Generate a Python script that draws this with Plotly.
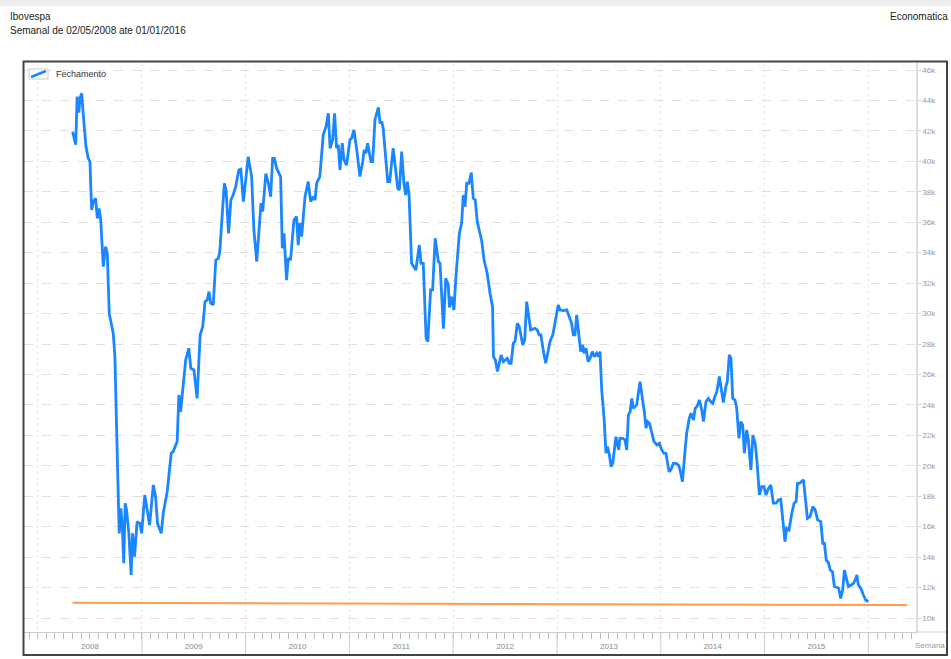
import pandas as pd
import plotly.graph_objects as go

# Weekly series start date; x data given as day offsets from this date
start_date = "2008-05-02"

days = [0, 11, 16, 22, 26, 32, 37, 47, 55, 61, 67, 73, 81, 87, 93, 99, 108, 116, 122, 129,
        143, 149, 155, 161, 164, 170, 175, 180, 185, 190, 198, 206, 211, 218, 227, 237, 243, 254, 263, 271,
        284, 292, 299, 312, 319, 333, 347, 354, 368, 374, 380, 398, 409, 416, 427, 438, 449, 458, 466, 474,
        480, 486, 495, 504, 513, 518, 534, 540, 549, 557, 565, 574, 585, 592, 601, 609, 618, 630, 638, 648,
        657, 663, 669, 680, 689, 697, 704, 710, 718, 732, 738, 744, 753, 759, 767, 779, 788, 794, 800, 806,
        818, 829, 838, 847, 853, 859, 870, 882, 892, 900, 906, 915, 922, 929, 935, 941, 949, 955, 964, 976,
        982, 990, 1000, 1011, 1021, 1026, 1032, 1038, 1050, 1056, 1064, 1076, 1082, 1088, 1093, 1103, 1109, 1116, 1128, 1137,
        1144, 1150, 1158, 1166, 1172, 1178, 1184, 1193, 1208, 1220, 1226, 1234, 1244, 1250, 1260, 1267, 1276, 1287, 1293, 1305,
        1313, 1322, 1326, 1334, 1342, 1349, 1361, 1369, 1375, 1381, 1387, 1395, 1403, 1410, 1417, 1424, 1440, 1448, 1459, 1469,
        1478, 1481, 1488, 1495, 1508, 1516, 1525, 1530, 1537, 1543, 1551, 1557, 1565, 1572, 1584, 1591, 1598, 1605, 1612, 1627,
        1635, 1642, 1648, 1657, 1665, 1672, 1680, 1690, 1695, 1704, 1709, 1715, 1727, 1739, 1748, 1756, 1762, 1768, 1774, 1780,
        1788, 1795, 1800, 1807, 1814, 1821, 1829, 1836, 1844, 1850, 1856, 1862, 1870, 1877, 1882, 1888, 1895, 1901, 1906, 1912,
        1917, 1922, 1926, 1936, 1944, 1950, 1956, 1962, 1968, 1973, 1985, 1991, 1997, 2005, 2012, 2018, 2023, 2030, 2038, 2046,
        2056, 2065, 2073, 2081, 2088, 2093, 2099, 2105, 2114, 2124, 2132, 2138, 2146, 2155, 2161, 2170, 2176, 2185, 2191, 2197,
        2206, 2214, 2220, 2229, 2237, 2246, 2253, 2258, 2267, 2276, 2284, 2290, 2299, 2304, 2311, 2317, 2323, 2331, 2337, 2345,
        2351, 2358, 2364, 2372, 2378, 2387, 2394, 2402, 2408, 2417, 2425, 2433, 2440, 2449, 2457, 2466, 2476, 2484, 2492, 2499,
        2507, 2513, 2521, 2531, 2539, 2546, 2551, 2558, 2564, 2572, 2578, 2586, 2595, 2605, 2613, 2622, 2633, 2640, 2646, 2652,
        2660, 2666, 2674, 2681, 2689, 2696, 2703, 2710, 2716, 2724, 2730, 2740, 2748, 2754, 2760, 2765, 2774, 2783, 2791, 2800]

fechamento = [41.95, 41.1, 44.25, 43.2, 44.15, 44.47, 43.2, 40.97, 40.2, 39.98, 36.8, 37.35, 37.57, 36.26, 36.9, 36.15, 33.08, 34.4, 33.96, 30.0,
              28.7, 27.17, 22.35, 17.3, 15.56, 17.2, 16.0, 13.6, 17.54, 17.1, 15.56, 12.83, 15.56, 14.03, 16.33, 16.2, 15.56, 18.08, 16.88, 16.1,
              18.74, 17.97, 16.2, 15.56, 16.88, 18.3, 20.82, 20.93, 21.59, 24.65, 23.55, 26.95, 27.72, 26.4, 26.3, 24.43, 28.6, 29.14, 30.78, 30.9,
              31.44, 30.68, 30.57, 33.52, 33.63, 34.07, 38.56, 38.12, 35.27, 37.46, 37.79, 38.34, 39.43, 39.48, 37.35, 38.78, 40.31, 39.0, 35.5, 33.42,
              35.5, 37.25, 36.7, 39.2, 38.56, 37.68, 40.2, 40.2, 39.55, 39.0, 34.29, 35.27, 32.2, 33.63, 33.52, 36.15, 36.37, 34.5, 35.94, 35.05,
              37.68, 38.67, 37.35, 37.68, 37.46, 38.56, 39.0, 41.74, 42.29, 43.16, 40.86, 41.41, 43.16, 40.86, 41.08, 39.43, 41.19, 40.09, 39.76, 41.41,
              41.52, 42.06, 40.75, 39.0, 39.98, 40.75, 40.53, 41.19, 39.98, 39.98, 42.72, 43.55, 42.5, 42.61, 42.17, 39.87, 38.67, 38.67, 40.86, 39.43,
              38.23, 38.12, 40.64, 38.56, 37.79, 38.67, 37.79, 33.3, 32.86, 34.5, 33.3, 33.3, 28.38, 28.16, 31.55, 31.55, 34.95, 33.42, 33.3, 29.0,
              32.31, 31.9, 30.4, 31.11, 30.24, 32.42, 35.27, 35.94, 37.79, 37.02, 38.56, 38.56, 39.26, 37.57, 37.46, 36.04, 34.73, 33.52, 32.65, 31.33,
              30.4, 27.17, 26.95, 26.19, 27.28, 26.84, 26.95, 27.06, 26.73, 26.73, 28.05, 28.16, 29.36, 29.14, 27.94, 28.27, 30.78, 29.8, 28.92, 29.03,
              28.92, 28.6, 28.6, 27.5, 26.73, 27.39, 28.16, 28.6, 29.14, 30.02, 30.57, 30.24, 30.2, 30.24, 29.69, 29.36, 28.6, 28.6, 29.91, 29.03,
              27.5, 27.94, 27.39, 27.72, 26.84, 27.06, 27.5, 27.17, 27.39, 27.17, 27.5, 24.98, 23.23, 20.82, 21.26, 20.82, 19.94, 20.16, 21.15, 21.91,
              21.48, 21.04, 21.8, 21.8, 21.7, 21.04, 23.34, 23.55, 24.43, 23.78, 24.0, 24.76, 25.53, 24.43, 23.55, 22.46, 22.9, 22.79, 22.13, 21.59,
              21.37, 21.48, 21.04, 20.82, 20.82, 20.27, 19.61, 19.72, 20.16, 20.16, 20.05, 19.72, 18.96, 20.93, 22.13, 23.12, 23.45, 23.0, 23.78, 23.88,
              24.32, 23.67, 22.9, 24.21, 24.43, 24.21, 24.1, 24.43, 24.87, 25.86, 24.98, 24.15, 25.2, 25.53, 27.28, 27.06, 24.43, 24.32, 23.78, 21.8,
              22.9, 22.68, 20.82, 22.35, 21.7, 19.72, 22.02, 21.48, 20.38, 18.08, 18.63, 18.63, 18.08, 18.52, 18.74, 17.54, 17.54, 17.75, 17.8, 16.55,
              15.01, 15.89, 15.78, 16.88, 17.54, 17.65, 18.85, 18.85, 18.96, 19.07, 17.97, 16.55, 16.66, 17.32, 17.1, 16.44, 16.33, 14.9, 14.9, 13.81,
              13.63, 13.15, 13.04, 12.06, 12.02, 11.95, 11.29, 11.84, 13.15, 12.39, 12.06, 12.17, 12.28, 12.5, 12.83, 12.17, 11.95, 11.51, 11.18, 11.07]

# Orange reference line (day offsets and values, thousands)
ref_days = [0, 2937]
ref_values = [11.0, 10.85]

y_ticks = list(range(10, 47, 2))
y_labels = [f"{v}k" for v in y_ticks]
years = list(range(2009, 2017))

t0 = pd.Timestamp(start_date)
x_dates = [t0 + pd.Timedelta(days=d) for d in days]
ref_dates = [t0 + pd.Timedelta(days=d) for d in ref_days]

fig = go.Figure()
fig.add_trace(go.Scatter(x=ref_dates, y=ref_values, mode="lines",
                         line=dict(color="#ff9a50", width=2), showlegend=False, hoverinfo="skip"))
fig.add_trace(go.Scatter(x=x_dates, y=fechamento, mode="lines", name="Fechamento",
                         line=dict(color="#1a86ff", width=2.8), showlegend=False))

W, H = 951, 659
L, R, T, B = 24, 916, 63, 632
def px(xp):
    return (xp - L) / (R - L)
def py(yp):
    return (B - yp) / (B - T)

x_range = [t0 + pd.Timedelta(days=-171), t0 + pd.Timedelta(days=2968)]

shapes = []
# top light band
shapes.append(dict(type="rect", xref="paper", yref="paper", x0=px(0), x1=px(W), y0=py(6), y1=py(0),
                   fillcolor="#eeeeee", line=dict(width=0), layer="below"))
# year separators in the axis band
for yr in years:
    shapes.append(dict(type="line", xref="x", yref="paper", x0=f"{yr}-01-01", x1=f"{yr}-01-01",
                       y0=0, y1=py(654), line=dict(color="#cccccc", width=1)))
# extend bottom axis line to the frame
shapes.append(dict(type="line", xref="paper", yref="paper", x0=1, x1=px(946), y0=0, y1=0,
                   line=dict(color="#cccccc", width=1)))
# legend swatch box with diagonal line
shapes.append(dict(type="rect", xref="paper", yref="paper", x0=px(29), x1=px(48), y0=py(79), y1=py(69),
                   line=dict(color="#cccccc", width=1), fillcolor="white"))
shapes.append(dict(type="line", xref="paper", yref="paper", x0=px(31), x1=px(46), y0=py(77), y1=py(71),
                   line=dict(color="#1a86ff", width=2.5)))
# outer frame
shapes.append(dict(type="rect", xref="paper", yref="paper", x0=px(23.5), x1=px(947), y0=py(655), y1=py(61.5),
                   line=dict(color="#444444", width=2)))

annotations = [
    dict(text="Ibovespa", xref="paper", yref="paper", x=px(8), y=py(17), xanchor="left", yanchor="middle",
         showarrow=False, font=dict(size=10, color="#222222")),
    dict(text="Semanal de 02/05/2008 ate 01/01/2016", xref="paper", yref="paper", x=px(8), y=py(31),
         xanchor="left", yanchor="middle", showarrow=False, font=dict(size=10, color="#222222")),
    dict(text="Economatica", xref="paper", yref="paper", x=px(950), y=py(17), xanchor="right", yanchor="middle",
         showarrow=False, font=dict(size=10, color="#222222")),
    dict(text="Semana", xref="paper", yref="paper", x=px(947), y=py(645), xanchor="right", yanchor="middle",
         showarrow=False, font=dict(size=8, color="#999999")),
    dict(text="Fechamento", xref="paper", yref="paper", x=px(54), y=py(74), xanchor="left", yanchor="middle",
         showarrow=False, font=dict(size=9, color="#333333")),
]

fig.update_layout(
    width=W, height=H,
    margin=dict(l=L, r=W - R, t=T, b=H - B, pad=0, autoexpand=False),
    paper_bgcolor="white", plot_bgcolor="white",
    font=dict(family="Liberation Sans, Arial, sans-serif"),
    showlegend=False,
    shapes=shapes,
    annotations=annotations,
    xaxis=dict(type="date", range=x_range, tick0="2008-01-01", dtick="M12", tickformat="%Y",
               ticklabelmode="period", ticks="outside", ticklen=6, tickcolor="#bbbbbb",
               tickfont=dict(size=8, color="#888888"), automargin=False,
               showgrid=True, gridcolor="#e6e6e6", griddash="dot", gridwidth=1,
               minor=dict(dtick="M1", ticks="outside", ticklen=6, tickcolor="#bbbbbb", showgrid=False),
               showline=True, linecolor="#cccccc", linewidth=1, zeroline=False, fixedrange=True),
    yaxis=dict(side="right", range=[9.08, 46.46], tickvals=y_ticks, ticktext=y_labels,
               ticks="outside", ticklen=3, tickcolor="#cccccc", automargin=False,
               tickfont=dict(size=8, color="#999999"),
               showgrid=True, gridcolor="#e0e0e0", griddash="dash", gridwidth=1,
               showline=True, linecolor="#dddddd", linewidth=1.5, zeroline=False),
)

fig.write_html("out.html")
